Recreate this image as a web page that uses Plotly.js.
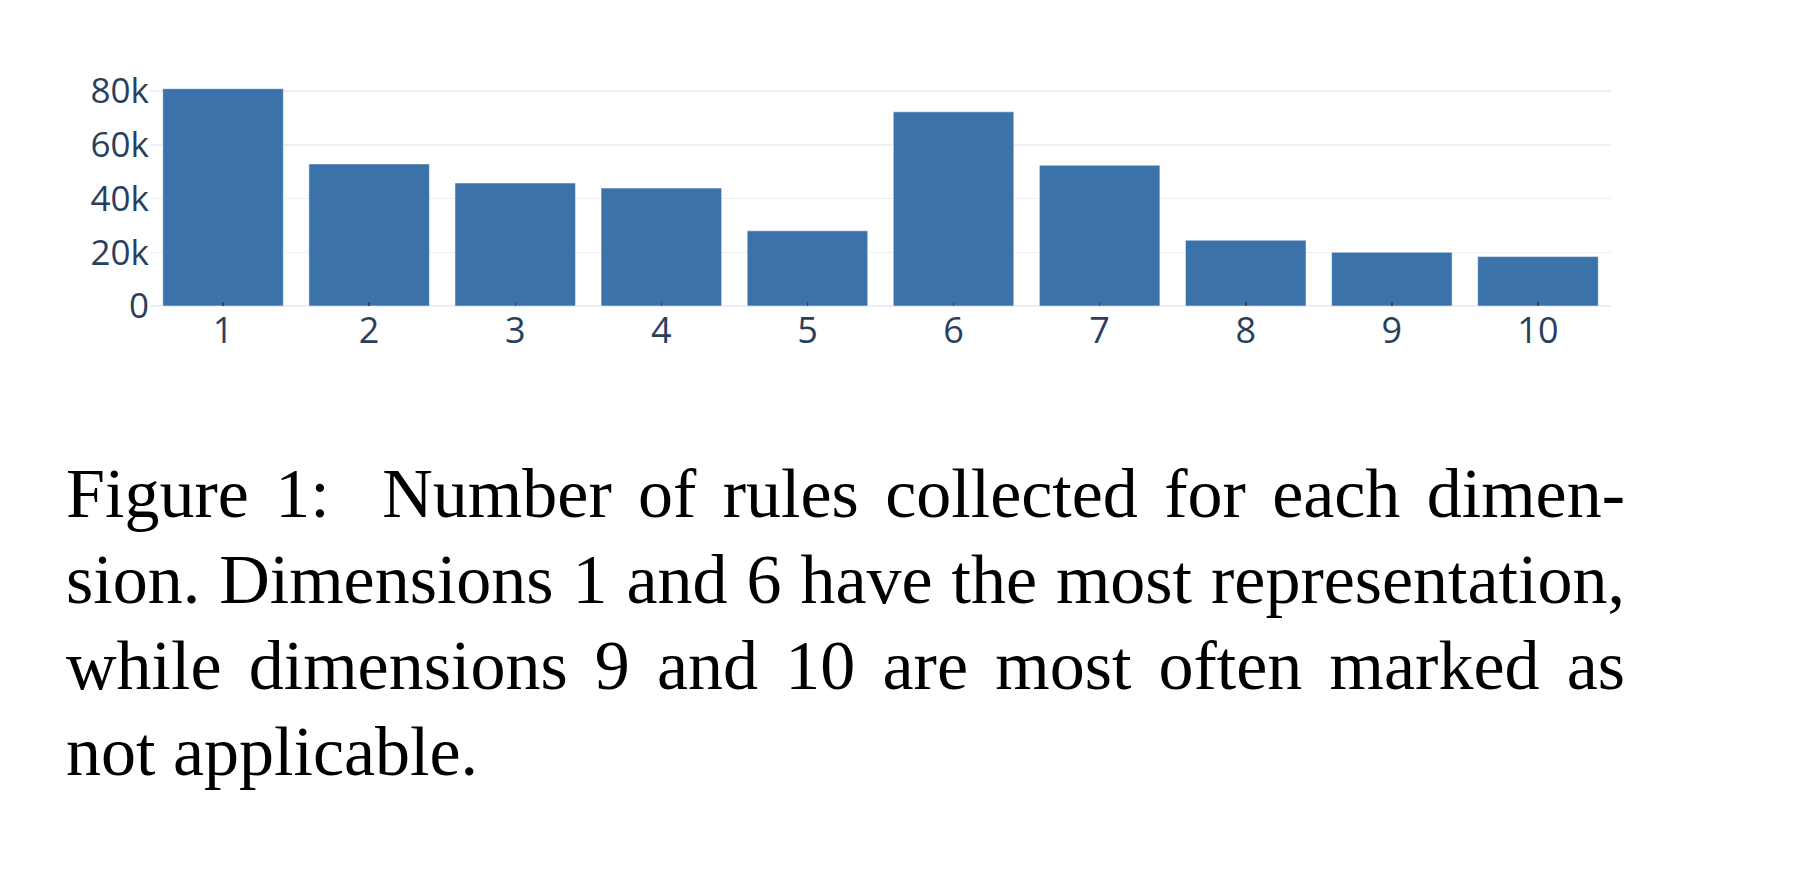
<!DOCTYPE html>
<html>
<head>
<meta charset="utf-8">
<script src="https://cdn.plot.ly/plotly-3.0.1.min.js"></script>
<style>
  html, body { margin: 0; padding: 0; background: #ffffff; width: 1812px; height: 872px; overflow: hidden; }
  #chart { position: absolute; left: 0; top: 0; width: 1812px; height: 380px; }
  #caption {
    position: absolute; left: 66px; top: 451px; width: 1559px;
    font-family: "Liberation Serif", "Times New Roman", serif;
    font-size: 70px; line-height: 86px; color: #000;
  }
  #caption .j { text-align: justify; text-align-last: justify; white-space: normal; }
  #caption .l { text-align: left; }
</style>
</head>
<body>
<div id="chart"></div>
<div id="caption">
  <div class="j">Figure 1:&nbsp; Number of rules collected for each dimen-</div>
  <div class="j">sion. Dimensions 1 and 6 have the most representation,</div>
  <div class="j">while dimensions 9 and 10 are most often marked as</div>
  <div class="l">not applicable.</div>
</div>
<script>
// Data
const dimensions = ["1", "2", "3", "4", "5", "6", "7", "8", "9", "10"];
const ruleCounts = [80900, 52900, 45800, 43900, 28000, 72300, 52400, 24500, 20000, 18400];
const yTickValues = [0, 20000, 40000, 60000, 80000];
const yTickLabels = ["0", "20k", "40k", "60k", "80k"];

const trace = {
  type: "bar",
  x: dimensions,
  y: ruleCounts,
  marker: { color: "#3c72aa", line: { color: "#ffffff", width: 0.5 } },
  hoverinfo: "x+y"
};

const layout = {
  width: 1812,
  height: 380,
  margin: { l: 150, r: 201, t: 78, b: 74 },
  paper_bgcolor: "#ffffff",
  plot_bgcolor: "#ffffff",
  showlegend: false,
  bargap: 0.175,
  font: { family: '"Open Sans", verdana, arial, sans-serif', color: "#2a3f5f" },
  xaxis: {
    type: "category",
    ticks: "inside",
    ticklen: 4,
    tickwidth: 1.5,
    tickcolor: "#444444",
    tickfont: { size: 36, color: "#2a3f5f" },
    showgrid: false,
    showline: false,
    zeroline: false
  },
  yaxis: {
    range: [0, 84900],
    tickmode: "array",
    tickvals: yTickValues,
    ticktext: yTickLabels,
    tickfont: { size: 35, color: "#2a3f5f" },
    showgrid: true,
    gridcolor: "#EBF0F8",
    gridwidth: 1.5,
    zeroline: true,
    zerolinecolor: "#EBF0F8",
    zerolinewidth: 2,
    ticks: "",
    showline: false
  }
};

Plotly.newPlot("chart", [trace], layout, { displayModeBar: false, staticPlot: true });
</script>
</body>
</html>
